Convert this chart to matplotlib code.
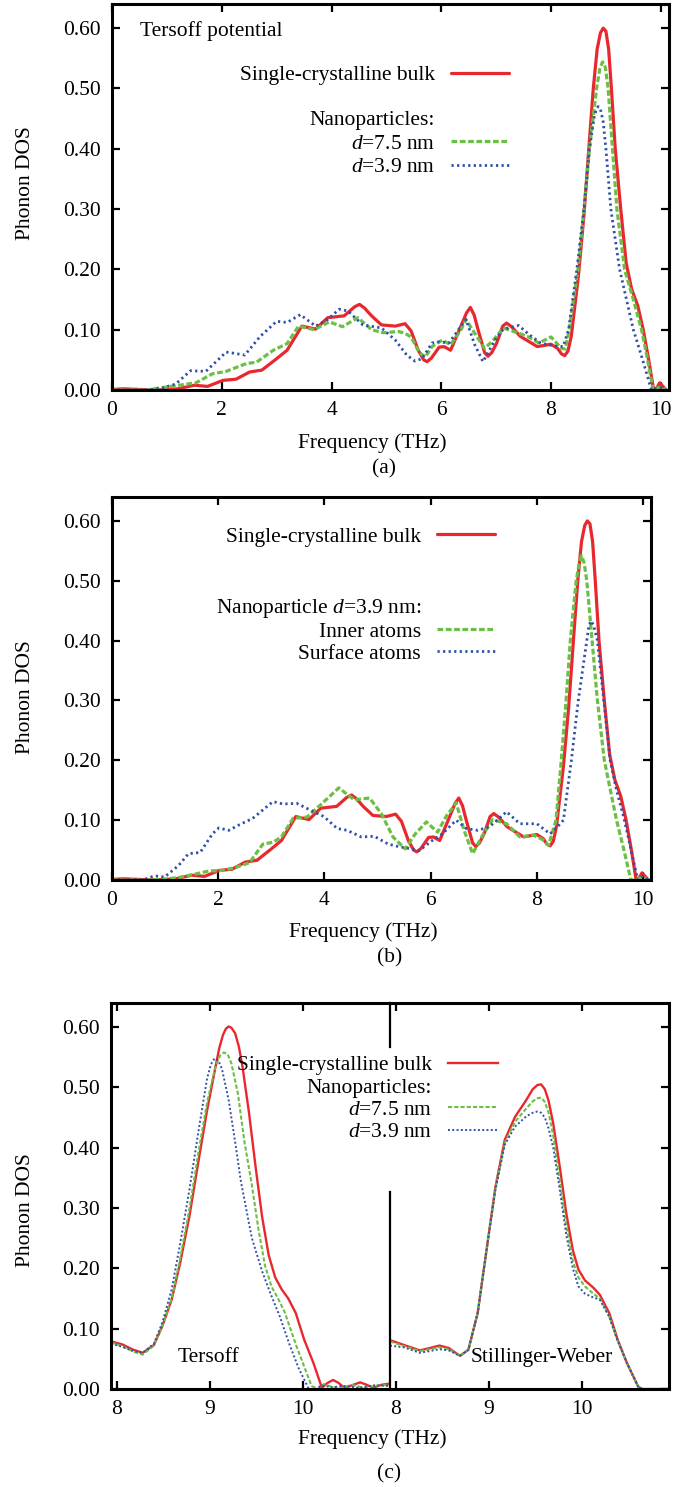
import matplotlib
matplotlib.use('Agg')
import matplotlib.pyplot as plt
from matplotlib.lines import Line2D

plt.rcParams['font.family'] = ['Liberation Serif', 'DejaVu Serif']
plt.rcParams['mathtext.fontset'] = 'custom'
plt.rcParams['mathtext.it'] = 'Liberation Serif:italic'
plt.rcParams['mathtext.rm'] = 'Liberation Serif'
plt.rcParams['font.size'] = 15.5

# ---------------- data (frequency THz, phonon DOS) ----------------
bulk = [(0.0, 0.001), (0.2, 0.002), (0.5, 0.001), (0.8, 0.0), (1.0, 0.001), (1.2, 0.002),
        (1.5, 0.008), (1.74, 0.006), (2.02, 0.016), (2.26, 0.018), (2.51, 0.030), (2.73, 0.033),
        (3.0, 0.052), (3.19, 0.066), (3.46, 0.106), (3.71, 0.101), (3.93, 0.120), (4.23, 0.123),
        (4.42, 0.138), (4.51, 0.142), (4.60, 0.136), (4.73, 0.123), (4.91, 0.108), (5.16, 0.106),
        (5.34, 0.110), (5.45, 0.098), (5.58, 0.066), (5.68, 0.050), (5.74, 0.047), (5.82, 0.053),
        (5.96, 0.071), (6.05, 0.072), (6.17, 0.066), (6.33, 0.100), (6.46, 0.128), (6.53, 0.137),
        (6.60, 0.124), (6.67, 0.100), (6.79, 0.062), (6.85, 0.056), (6.92, 0.062), (7.01, 0.078),
        (7.12, 0.106), (7.19, 0.111), (7.28, 0.105), (7.44, 0.089), (7.75, 0.072), (8.0, 0.076),
        (8.12, 0.069), (8.19, 0.060), (8.25, 0.057), (8.31, 0.065), (8.37, 0.090), (8.5, 0.19),
        (8.55, 0.24), (8.6, 0.29), (8.68, 0.39), (8.77, 0.50), (8.84, 0.565), (8.90, 0.592),
        (8.95, 0.600), (9.0, 0.595), (9.05, 0.565), (9.1, 0.50), (9.17, 0.40), (9.27, 0.30),
        (9.37, 0.21), (9.47, 0.167), (9.58, 0.14), (9.68, 0.10), (9.78, 0.05), (9.87, 0.0),
        (9.93, 0.004), (9.98, 0.012), (10.04, 0.006), (10.1, 0.0)]

np_75 = [(0.0, 0.0), (0.3, 0.0), (0.6, 0.0), (0.91, 0.004), (1.22, 0.008), (1.53, 0.012),
         (1.83, 0.027), (2.08, 0.031), (2.45, 0.044), (2.63, 0.046), (2.94, 0.066), (3.19, 0.077),
         (3.40, 0.106), (3.68, 0.100), (3.96, 0.113), (4.20, 0.105), (4.48, 0.120), (4.73, 0.100),
         (4.94, 0.095), (5.22, 0.097), (5.34, 0.094), (5.45, 0.088), (5.6, 0.062), (5.71, 0.055),
         (5.83, 0.072), (6.02, 0.083), (6.17, 0.075), (6.36, 0.100), (6.45, 0.117), (6.61, 0.094),
         (6.79, 0.069), (6.95, 0.083), (7.13, 0.103), (7.32, 0.097), (7.57, 0.089), (7.78, 0.078),
         (8.0, 0.088), (8.19, 0.069), (8.26, 0.068), (8.33, 0.10), (8.49, 0.2), (8.6, 0.3),
         (8.7, 0.4), (8.83, 0.5), (8.89, 0.533), (8.94, 0.544), (8.99, 0.535), (9.04, 0.5),
         (9.12, 0.4), (9.2, 0.3), (9.34, 0.2), (9.5, 0.15), (9.65, 0.1), (9.76, 0.05),
         (9.86, 0.0), (9.95, 0.004), (10.03, 0.005), (10.1, 0.0)]

np_39 = [(0.0, 0.0), (0.3, 0.0), (0.6, 0.0), (0.91, 0.003), (1.16, 0.010), (1.43, 0.032),
         (1.71, 0.031), (2.08, 0.063), (2.42, 0.058), (2.70, 0.089), (3.0, 0.114), (3.19, 0.112),
         (3.43, 0.125), (3.71, 0.106), (3.93, 0.117), (4.14, 0.134), (4.30, 0.131), (4.57, 0.108),
         (4.91, 0.103), (5.16, 0.083), (5.37, 0.058), (5.52, 0.048), (5.65, 0.052), (5.83, 0.078),
         (5.96, 0.080), (6.14, 0.078), (6.36, 0.106), (6.45, 0.117), (6.61, 0.075), (6.76, 0.047),
         (6.98, 0.083), (7.13, 0.101), (7.41, 0.107), (7.60, 0.092), (7.81, 0.078), (8.06, 0.073),
         (8.22, 0.072), (8.32, 0.10), (8.47, 0.2), (8.6, 0.3), (8.7, 0.4), (8.79, 0.455),
         (8.83, 0.466), (8.86, 0.47), (8.90, 0.466), (8.95, 0.445), (9.0, 0.40), (9.09, 0.30),
         (9.25, 0.20), (9.5, 0.10), (9.67, 0.05), (9.83, 0.0), (9.92, 0.003), (10.0, 0.004),
         (10.1, 0.0)]

inner_39 = [(0.0, 0.0), (0.3, 0.0), (0.61, 0.0), (0.93, 0.001), (1.25, 0.004), (1.57, 0.010),
            (1.82, 0.015), (2.08, 0.016), (2.33, 0.021), (2.59, 0.029), (2.84, 0.060), (3.03, 0.063),
            (3.19, 0.072), (3.41, 0.103), (3.67, 0.105), (3.92, 0.125), (4.27, 0.154), (4.56, 0.134),
            (4.85, 0.137), (5.07, 0.111), (5.29, 0.072), (5.52, 0.052), (5.71, 0.077), (5.92, 0.097),
            (6.13, 0.080), (6.29, 0.106), (6.48, 0.129), (6.63, 0.083), (6.79, 0.044), (6.98, 0.075),
            (7.17, 0.101), (7.43, 0.094), (7.68, 0.072), (7.94, 0.075), (8.1, 0.068), (8.22, 0.058),
            (8.36, 0.10), (8.46, 0.2), (8.55, 0.3), (8.63, 0.4), (8.74, 0.5), (8.80, 0.53),
            (8.84, 0.542), (8.89, 0.53), (8.94, 0.5), (9.04, 0.4), (9.14, 0.3), (9.27, 0.2),
            (9.5, 0.1), (9.64, 0.05), (9.77, 0.0), (9.87, 0.0), (9.95, 0.004), (10.05, 0.003),
            (10.1, 0.0)]

surface_39 = [(0.0, 0.0), (0.4, 0.0), (0.61, 0.001), (0.80, 0.007), (0.99, 0.005), (1.25, 0.024),
              (1.44, 0.044), (1.66, 0.046), (1.89, 0.077), (2.01, 0.087), (2.20, 0.083), (2.39, 0.092),
              (2.65, 0.103), (2.84, 0.117), (3.03, 0.131), (3.22, 0.127), (3.48, 0.128), (3.73, 0.117),
              (3.99, 0.106), (4.24, 0.086), (4.43, 0.083), (4.69, 0.072), (4.94, 0.073), (5.20, 0.060),
              (5.39, 0.056), (5.64, 0.052), (5.78, 0.049), (6.03, 0.066), (6.22, 0.077), (6.48, 0.100),
              (6.67, 0.086), (6.89, 0.083), (7.11, 0.089), (7.43, 0.114), (7.68, 0.094), (8.0, 0.094),
              (8.25, 0.077), (8.4, 0.09), (8.5, 0.1), (8.65, 0.2), (8.78, 0.3), (8.94, 0.4),
              (8.98, 0.425), (9.02, 0.433), (9.07, 0.425), (9.14, 0.4), (9.26, 0.3), (9.38, 0.2),
              (9.5, 0.15), (9.62, 0.11), (9.7, 0.08), (9.8, 0.04), (9.9, 0.0), (9.98, 0.006),
              (10.05, 0.004), (10.1, 0.0)]

ters_bulk = [(7.94, 0.079), (8.06, 0.074), (8.18, 0.065), (8.28, 0.060), (8.40, 0.073), (8.49, 0.104),
             (8.59, 0.148), (8.68, 0.208), (8.78, 0.286), (8.88, 0.380), (8.97, 0.462), (9.06, 0.534),
             (9.10, 0.565), (9.14, 0.587), (9.17, 0.597), (9.20, 0.601), (9.23, 0.599), (9.27, 0.590),
             (9.31, 0.568), (9.35, 0.534), (9.42, 0.457), (9.49, 0.368), (9.56, 0.285), (9.63, 0.222),
             (9.70, 0.185), (9.77, 0.165), (9.84, 0.150), (9.92, 0.126), (10.01, 0.082), (10.11, 0.043),
             (10.20, 0.002), (10.26, 0.010), (10.32, 0.015), (10.38, 0.010), (10.44, 0.002), (10.52, 0.006),
             (10.61, 0.011), (10.68, 0.007), (10.75, 0.002), (10.84, 0.007), (10.93, 0.009)]
ters_75 = [(7.94, 0.077), (8.06, 0.071), (8.18, 0.062), (8.28, 0.057), (8.40, 0.072), (8.49, 0.105),
           (8.59, 0.150), (8.68, 0.215), (8.78, 0.298), (8.88, 0.395), (8.97, 0.475), (9.06, 0.535),
           (9.11, 0.553), (9.15, 0.558), (9.19, 0.555), (9.23, 0.540), (9.30, 0.49), (9.37, 0.41),
           (9.45, 0.338), (9.52, 0.265), (9.59, 0.205), (9.66, 0.170), (9.73, 0.150), (9.80, 0.128),
           (9.93, 0.07), (10.09, 0.005), (10.16, 0.0), (10.22, 0.008), (10.30, 0.004), (10.40, 0.001),
           (10.52, 0.007), (10.65, 0.002), (10.80, 0.006), (10.93, 0.007)]
ters_39 = [(7.94, 0.075), (8.06, 0.070), (8.18, 0.063), (8.28, 0.060), (8.40, 0.075), (8.49, 0.110),
           (8.59, 0.165), (8.68, 0.240), (8.78, 0.330), (8.88, 0.430), (8.97, 0.515), (9.01, 0.538),
           (9.05, 0.548), (9.09, 0.545), (9.13, 0.530), (9.20, 0.48), (9.28, 0.40), (9.33, 0.346),
           (9.45, 0.25), (9.56, 0.195), (9.65, 0.158), (9.75, 0.12), (9.85, 0.075), (9.95, 0.035),
           (10.06, 0.0), (10.13, 0.0), (10.2, 0.006), (10.3, 0.003), (10.45, 0.005), (10.6, 0.002),
           (10.75, 0.006), (10.93, 0.005)]

sw_bulk = [(7.94, 0.081), (8.09, 0.073), (8.26, 0.064), (8.37, 0.068), (8.47, 0.072), (8.57, 0.068),
           (8.69, 0.055), (8.78, 0.065), (8.88, 0.126), (8.97, 0.225), (9.07, 0.335), (9.17, 0.413),
           (9.28, 0.451), (9.40, 0.479), (9.47, 0.497), (9.52, 0.504), (9.56, 0.505), (9.60, 0.497),
           (9.64, 0.478), (9.69, 0.440), (9.76, 0.368), (9.83, 0.291), (9.90, 0.230), (9.96, 0.198),
           (10.03, 0.180), (10.12, 0.168), (10.19, 0.156), (10.29, 0.126), (10.38, 0.082), (10.48, 0.043),
           (10.60, 0.004), (10.64, 0.0), (10.93, 0.0)]
sw_75 = [(7.94, 0.079), (8.09, 0.071), (8.26, 0.063), (8.37, 0.066), (8.47, 0.069), (8.57, 0.066),
         (8.69, 0.055), (8.78, 0.065), (8.88, 0.126), (8.97, 0.225), (9.07, 0.333), (9.17, 0.408),
         (9.28, 0.443), (9.40, 0.465), (9.47, 0.477), (9.52, 0.482), (9.56, 0.483), (9.60, 0.476),
         (9.64, 0.458), (9.69, 0.42), (9.76, 0.345), (9.83, 0.27), (9.90, 0.212), (9.96, 0.185),
         (10.03, 0.170), (10.12, 0.158), (10.19, 0.15), (10.29, 0.12), (10.38, 0.08), (10.48, 0.043),
         (10.60, 0.004), (10.64, 0.0), (10.93, 0.0)]
sw_39 = [(7.94, 0.072), (8.09, 0.069), (8.26, 0.060), (8.37, 0.063), (8.47, 0.066), (8.57, 0.064),
         (8.69, 0.055), (8.78, 0.065), (8.88, 0.126), (8.97, 0.225), (9.07, 0.33), (9.17, 0.405),
         (9.28, 0.435), (9.40, 0.452), (9.47, 0.458), (9.52, 0.460), (9.56, 0.458), (9.60, 0.450),
         (9.64, 0.432), (9.69, 0.40), (9.76, 0.33), (9.83, 0.255), (9.90, 0.2), (9.96, 0.170),
         (10.03, 0.158), (10.1, 0.153), (10.19, 0.148), (10.29, 0.12), (10.38, 0.08), (10.48, 0.043),
         (10.60, 0.004), (10.64, 0.0), (10.93, 0.0)]

yticks = [0.0, 0.1, 0.2, 0.3, 0.4, 0.5, 0.6]
xticks_full = [0, 2, 4, 6, 8, 10]
xticks_zoom = [8, 9, 10]

RED = '#e8282e'
GREEN = '#6cbf45'
BLUE = '#3050a8'

FS = 15.5


def xy(pairs):
    return [p[0] for p in pairs], [p[1] for p in pairs]


def style(ax, left=True, right=True):
    ax.tick_params(direction='in', length=6, width=1.6, top=True, bottom=True,
                   left=left, right=right, labelsize=FS, pad=8)
    for s in ax.spines.values():
        s.set_linewidth(2.2)
    ax.set_ylim(0, 0.64)
    ax.set_yticks(yticks)
    ax.set_yticklabels(['%.2f' % v for v in yticks])


thick = dict(red=dict(color=RED, lw=2.3, solid_joinstyle='round', solid_capstyle='round'),
             green=dict(color=GREEN, lw=2.3, dashes=(1.8, 0.8)),
             blue=dict(color=BLUE, lw=2.0, dashes=(0.8, 1.2)))
thin = dict(red=dict(color=RED, lw=1.7, solid_joinstyle='round'),
            green=dict(color=GREEN, lw=1.5, dashes=(2.0, 1.0)),
            blue=dict(color=BLUE, lw=1.4, dashes=(1.0, 1.2)))

fig = plt.figure(figsize=(6.89, 14.87), dpi=100)

leg_kw = dict(frameon=False, markerfirst=False, handlelength=2.7, handletextpad=0.75,
              borderpad=0, borderaxespad=0, labelspacing=0.15, fontsize=FS, loc='center right')
blank = Line2D([], [], color='none')

# ---------------- panel (a) ----------------
ax_a = fig.add_axes([0.1626, 0.7377, 0.8084, 0.2596])
ax_a.plot(*xy(bulk), **thick['red'])
ax_a.plot(*xy(np_75), **thick['green'])
ax_a.plot(*xy(np_39), **thick['blue'])
ax_a.set_xlim(0, 10.15)
ax_a.set_xticks(xticks_full)
style(ax_a)
ax_a.text(0.05, 0.93, 'Tersoff potential', transform=ax_a.transAxes, ha='left', va='center', fontsize=FS)
l1 = ax_a.legend([Line2D([], [], **thick['red'])], ['Single-crystalline bulk'],
                 bbox_to_anchor=(0.713, 0.816), **leg_kw)
ax_a.add_artist(l1)
ax_a.legend([blank, Line2D([], [], **thick['green']), Line2D([], [], **thick['blue'])],
            ['Nanoparticles:', '$d$=7.5 nm', '$d$=3.9 nm'],
            bbox_to_anchor=(0.713, 0.638), **leg_kw)

# ---------------- panel (b) ----------------
ax_b = fig.add_axes([0.1626, 0.4082, 0.7823, 0.2576])
ax_b.plot(*xy(bulk), **thick['red'])
ax_b.plot(*xy(inner_39), **thick['green'])
ax_b.plot(*xy(surface_39), **thick['blue'])
ax_b.set_xlim(0, 10.15)
ax_b.set_xticks(xticks_full)
style(ax_b)
l2 = ax_b.legend([Line2D([], [], **thick['red'])], ['Single-crystalline bulk'],
                 bbox_to_anchor=(0.711, 0.896), **leg_kw)
ax_b.add_artist(l2)
kw_b = dict(leg_kw)
kw_b.update(labelspacing=0.1)
ax_b.legend([blank, Line2D([], [], **thick['green']), Line2D([], [], **thick['blue'])],
            ['Nanoparticle $d$=3.9 nm:', 'Inner atoms', 'Surface atoms'],
            bbox_to_anchor=(0.711, 0.652), **kw_b)

# ---------------- panel (c) ----------------
ax_t = fig.add_axes([0.1611, 0.0659, 0.4049, 0.2596])
ax_s = fig.add_axes([0.5660, 0.0659, 0.4049, 0.2596])
ax_t.plot(*xy(ters_bulk), **thin['red'])
ax_t.plot(*xy(ters_75), **thin['green'])
ax_t.plot(*xy(ters_39), **thin['blue'])
ax_s.plot(*xy(sw_bulk), **thin['red'])
ax_s.plot(*xy(sw_75), **thin['green'])
ax_s.plot(*xy(sw_39), **thin['blue'])
for ax in (ax_t, ax_s):
    ax.set_xlim(7.94, 10.93)
    ax.set_xticks(xticks_zoom)
style(ax_t, left=True, right=False)
style(ax_s, left=False, right=True)
ax_s.set_yticklabels([])
ax_t.spines['right'].set_visible(False)
ax_s.spines['left'].set_visible(False)
xmin = ax_s.get_xlim()[0]
ax_s.axvline(xmin, ymin=0.0, ymax=0.51, color='black', lw=1.6, clip_on=False)
ax_s.axvline(xmin, ymin=0.886, ymax=1.0, color='black', lw=1.6, clip_on=False)
ax_t.text(8.99, 0.053, 'Tersoff', ha='center', va='center', fontsize=FS)
ax_s.text(9.57, 0.053, 'Stillinger-Weber', ha='center', va='center', fontsize=FS)
kw_c = dict(leg_kw)
kw_c.update(labelspacing=0.1, handlelength=2.3)
ax_s.legend([Line2D([], [], **thin['red']), blank, Line2D([], [], **thin['green']),
             Line2D([], [], **thin['blue'])],
            ['Single-crystalline bulk', 'Nanoparticles:', '$d$=7.5 nm', '$d$=3.9 nm'],
            bbox_to_anchor=(0.387, 0.752), **kw_c)

# ---------------- labels ----------------
for yc in (0.877, 0.531, 0.186):
    fig.text(0.0377, yc, 'Phonon DOS', rotation=90, ha='center', va='center', fontsize=FS)
fig.text(0.540, 0.702, 'Frequency (THz)', ha='center', va='center', fontsize=FS)
fig.text(0.557, 0.685, '(a)', ha='center', va='center', fontsize=FS)
fig.text(0.527, 0.373, 'Frequency (THz)', ha='center', va='center', fontsize=FS)
fig.text(0.566, 0.356, '(b)', ha='center', va='center', fontsize=FS)
fig.text(0.541, 0.032, 'Frequency (THz)', ha='center', va='center', fontsize=FS)
fig.text(0.565, 0.009, '(c)', ha='center', va='center', fontsize=FS)

fig.savefig('out.png', dpi=100)
